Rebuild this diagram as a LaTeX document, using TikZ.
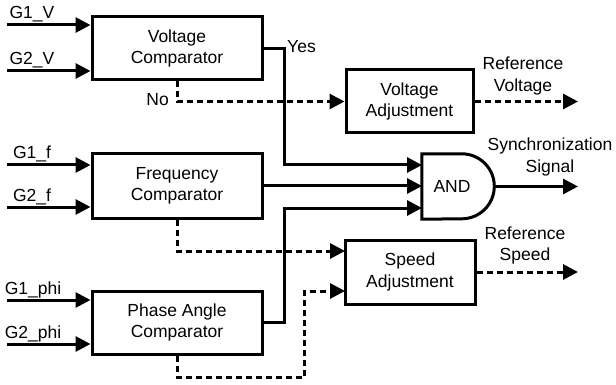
\documentclass[tikz,border=0pt]{standalone}
\usepackage{fontspec}
\setmainfont{Liberation Sans}
\usetikzlibrary{arrows.meta}
\begin{document}
\begin{tikzpicture}[x=1pt,y=-1pt,font=\fontsize{17.5}{21.5}\selectfont,
  blk/.style={draw,line width=3pt,minimum width=170pt,minimum height=63pt,align=center,inner sep=0pt},
  wire/.style={line width=3pt,-{Triangle[length=15pt,width=15pt]}},
  dwire/.style={wire,dash pattern=on 6pt off 4pt},
  lbl/.style={inner sep=0pt,align=center}]
\useasboundingbox (0,0) rectangle (616,385);
% blocks
\node[blk] (vc) at (177,48.5) {Voltage\\Comparator};
\node[blk,minimum height=64pt] (fc) at (177,186) {Frequency\\Comparator};
\node[blk] (pc) at (177,322.5) {Phase Angle\\Comparator};
\node[blk,minimum width=127pt] (va) at (409.5,101.5) {Voltage\\Adjustment};
\node[blk,minimum width=130pt,minimum height=64pt] (sa) at (410,272) {Speed\\Adjustment};
\node[inner sep=0pt,minimum width=60pt,minimum height=65pt] (and) at (452,186.5) {AND};
\draw[line width=3pt] (and.north west) -- ++(40pt,0pt) arc[start angle=90,end angle=-90,radius=32.5pt] -- (and.south west) -- cycle;
% coordinates
\coordinate (g1v) at (7,25);
\coordinate (g2v) at (7,71);
\coordinate (g1f) at (7,165);
\coordinate (g2f) at (7,207);
\coordinate (g1p) at (7,300);
\coordinate (g2p) at (7,344);
\coordinate (in1) at (422,165);
\coordinate (in3) at (422,208);
\coordinate (andout) at (494.5,186.5);
\coordinate (sync) at (578,186.5);
\coordinate (refv) at (578,101.5);
\coordinate (refs) at (578,272);
\coordinate (sain1) at (345,251);
\coordinate (sain2) at (345,291);
\coordinate (pcb) at (304,377);
% inputs
\draw[wire] (g1v) -- (g1v -| vc.west);
\draw[wire] (g2v) -- (g2v -| vc.west);
\draw[wire] (g1f) -- (g1f -| fc.west);
\draw[wire] (g2f) -- (g2f -| fc.west);
\draw[wire] (g1p) -- (g1p -| pc.west);
\draw[wire] (g2p) -- (g2p -| pc.west);
\node[lbl,anchor=base] (l1) at (32,19) {G1\_V};
\node[lbl,anchor=base] (l2) at (32,65) {G2\_V};
\node[lbl,anchor=base] (l3) at (32,159) {G1\_f};
\node[lbl,anchor=base] (l4) at (32,201) {G2\_f};
\node[lbl,anchor=base] (l5) at (33,294) {G1\_phi};
\node[lbl,anchor=base] (l6) at (33,338) {G2\_phi};
% solid to AND
\draw[wire] (vc.east) -- ++(21pt,0pt) |- (in1);
\draw[wire] (fc.east) -- (fc.east -| in1);
\draw[wire] (pc.east) -- ++(21pt,0pt) |- (in3);
\draw[wire] (andout) -- (sync);
% dashed
\draw[dwire] (vc.south) |- (va.west);
\draw[dwire] (fc.south) |- (sain1);
\draw[dwire] (pc.south) |- (pcb) |- (sain2);
\draw[dwire] (va.east) -- (refv);
\draw[dwire] (sa.east) -- (refs);
% labels
\node[lbl,anchor=west] (yes) at (287,47) {Yes};
\node[lbl,anchor=east] (no) at (169,100) {No};
\node[lbl] (syn) at (550,157) {Synchronization\\Signal};
\node[lbl] (rv) at (523,76) {Reference\\Voltage};
\node[lbl] (rs) at (525,245.5) {Reference\\Speed};
\end{tikzpicture}
\end{document}
